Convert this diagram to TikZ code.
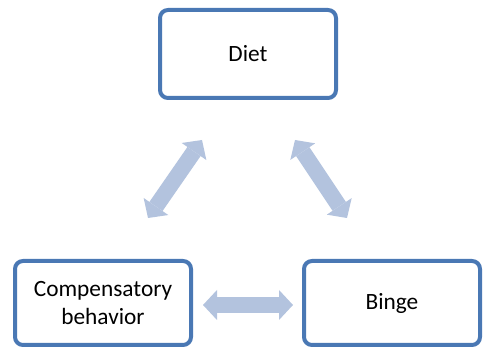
\documentclass[tikz,border=0pt]{standalone}
\usepackage{fontspec}
\setmainfont{Carlito}
\usetikzlibrary{arrows.meta,positioning}
\definecolor{boxblue}{RGB}{74,120,180}
\definecolor{arrblue}{RGB}{179,195,222}

\begin{document}
\begin{tikzpicture}[x=0.75pt, y=-0.75pt,
  stagebox/.style={draw=boxblue, line width=3pt, rounded corners=6pt, fill=white,
    minimum width=132pt, minimum height=63pt, align=center, inner sep=2pt,
    font=\fontsize{17.5}{21}\selectfont},
  linkarr/.style={draw=arrblue, line width=12pt,
    {Triangle[length=10.5pt, width=22.5pt, line width=0pt]}-{Triangle[length=10.5pt, width=22.5pt, line width=0pt]}}]
\useasboundingbox (0,0) rectangle (483,349);
% Boxes
\node[stagebox, minimum height=66pt] (diet) at (248,54) {Diet};
\node[stagebox] (comp) at (103,303) {Compensatory\\behavior};
\node[stagebox] (binge) at (392,303) {Binge};
% Arrow ends
\coordinate (cd1) at (148,218);
\coordinate (cd2) at (202,140);
\coordinate (db1) at (295,140);
\coordinate (db2) at (347,218);
\coordinate (cb1) at (203,305);
\coordinate (cb2) at (293,305);
% Double arrows
\draw[linkarr] (cd1) -- (cd2);
\draw[linkarr] (db1) -- (db2);
\draw[linkarr] (cb1) -- (cb2);
\end{tikzpicture}
\end{document}
